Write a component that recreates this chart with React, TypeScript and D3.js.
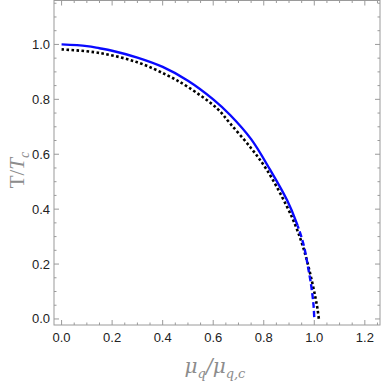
import * as d3 from 'd3';
import React from 'react';

// blue curve: solid above the switch temperature, dashed below
const blueMu = [0, 0.1, 0.15, 0.2, 0.3, 0.4, 0.5, 0.6, 0.667, 0.75, 0.826, 0.892, 0.93, 0.958, 0.975, 0.988, 0.997, 1.0];
const blueT = [1.0, 0.994, 0.986, 0.977, 0.952, 0.918, 0.868, 0.8, 0.743, 0.655, 0.542, 0.433, 0.35, 0.269, 0.19, 0.12, 0.05, 0.0];
const blueDashBelowT = 0.34;

// black dotted curve
const blackMu = [0, 0.15, 0.3, 0.417, 0.5, 0.615, 0.667, 0.75, 0.813, 0.892, 0.93, 0.958, 0.985, 1.004, 1.013, 1.018];
const blackT = [0.982, 0.969, 0.935, 0.888, 0.845, 0.767, 0.712, 0.622, 0.542, 0.409, 0.33, 0.255, 0.16, 0.08, 0.035, 0.0];

const xTicks = [0, 0.2, 0.4, 0.6, 0.8, 1.0, 1.2];
const yTicks = [0, 0.2, 0.4, 0.6, 0.8, 1.0];

const W = 382;
const H = 384;
const left = 54, right = 380, top = 0.5, bottom = 325;

const App = () => {
    const x = d3.scaleLinear().domain([-0.03, 1.26]).range([left, right]);
    const y = d3.scaleLinear().domain([-0.022, 1.16]).range([bottom, top]);

    const line = d3.line<[number, number]>()
        .x(d => x(d[0]))
        .y(d => y(d[1]))
        .curve(d3.curveCatmullRom);

    const blue = blueMu.map((m, i) => [m, blueT[i]] as [number, number]);
    const black = blackMu.map((m, i) => [m, blackT[i]] as [number, number]);
    const ySwitch = y(blueDashBelowT);

    const frameColor = '#9a9a9a';
    const minorX = d3.range(0, 1.26, 0.05);
    const minorY = d3.range(0, 1.16, 0.05);
    const isMajor = (v: number) => Math.abs(v * 5 - Math.round(v * 5)) < 1e-6;

    return (
        <svg width={W} height={H} style={{ position: 'absolute', left: 0, top: 0 }}>
            <defs>
                <clipPath id="solidPart">
                    <rect x={0} y={0} width={W} height={ySwitch} />
                </clipPath>
                <clipPath id="dashPart">
                    <rect x={0} y={ySwitch} width={W} height={H - ySwitch} />
                </clipPath>
            </defs>
            <rect x={0} y={0} width={W} height={H} fill="white" />
            {/* curves */}
            <path d={line(black) || ''} fill="none" stroke="#000" strokeWidth={2.6} strokeDasharray="2.6,2.4" />
            <path d={line(blue) || ''} fill="none" stroke="#0a0aff" strokeWidth={2.4} clipPath="url(#solidPart)" />
            <path d={line(blue) || ''} fill="none" stroke="#0a0aff" strokeWidth={2.4} strokeDasharray="6,3" clipPath="url(#dashPart)" />

            {/* frame */}
            <rect x={left} y={top} width={right - left} height={bottom - top} fill="none" stroke={frameColor} strokeWidth={1} />
            {minorX.map((v, i) => {
                const len = isMajor(v) ? 5 : 2.5;
                return (
                    <g key={'tx' + i} stroke={frameColor} strokeWidth={1}>
                        <line x1={x(v)} x2={x(v)} y1={bottom} y2={bottom - len} />
                        <line x1={x(v)} x2={x(v)} y1={top} y2={top + len} />
                    </g>
                );
            })}
            {minorY.map((v, i) => {
                const len = isMajor(v) ? 5 : 2.5;
                return (
                    <g key={'ty' + i} stroke={frameColor} strokeWidth={1}>
                        <line x1={left} x2={left + len} y1={y(v)} y2={y(v)} />
                        <line x1={right} x2={right - len} y1={y(v)} y2={y(v)} />
                    </g>
                );
            })}

            {/* tick labels */}
            {xTicks.map(v => (
                <text key={'lx' + v} x={x(v)} y={342} textAnchor="middle" fontFamily="Liberation Sans, Arial, sans-serif" fontSize={13} fill="#222">
                    {v.toFixed(1)}
                </text>
            ))}
            {yTicks.map(v => (
                <text key={'ly' + v} x={50} y={y(v) + 4.5} textAnchor="end" fontFamily="Liberation Sans, Arial, sans-serif" fontSize={13} fill="#222">
                    {v.toFixed(1)}
                </text>
            ))}

            {/* axis labels */}
            <text x={215} y={373} textAnchor="middle" fontFamily="DejaVu Serif, Liberation Serif, serif" fontStyle="italic" fontSize={20} fill="#8c8c8c">
                μ<tspan fontSize={13} dy={5}>q</tspan><tspan dy={-5}>/μ</tspan><tspan fontSize={13} dy={5}>q,c</tspan>
            </text>
            <text transform="translate(24,170) rotate(-90)" textAnchor="middle" fontFamily="Liberation Serif, serif" fontSize={21} fill="#8c8c8c">
                T/<tspan fontStyle="italic">T</tspan><tspan fontStyle="italic" fontSize={14} dy={5}>c</tspan>
            </text>
        </svg>
    );
};

export default App;
